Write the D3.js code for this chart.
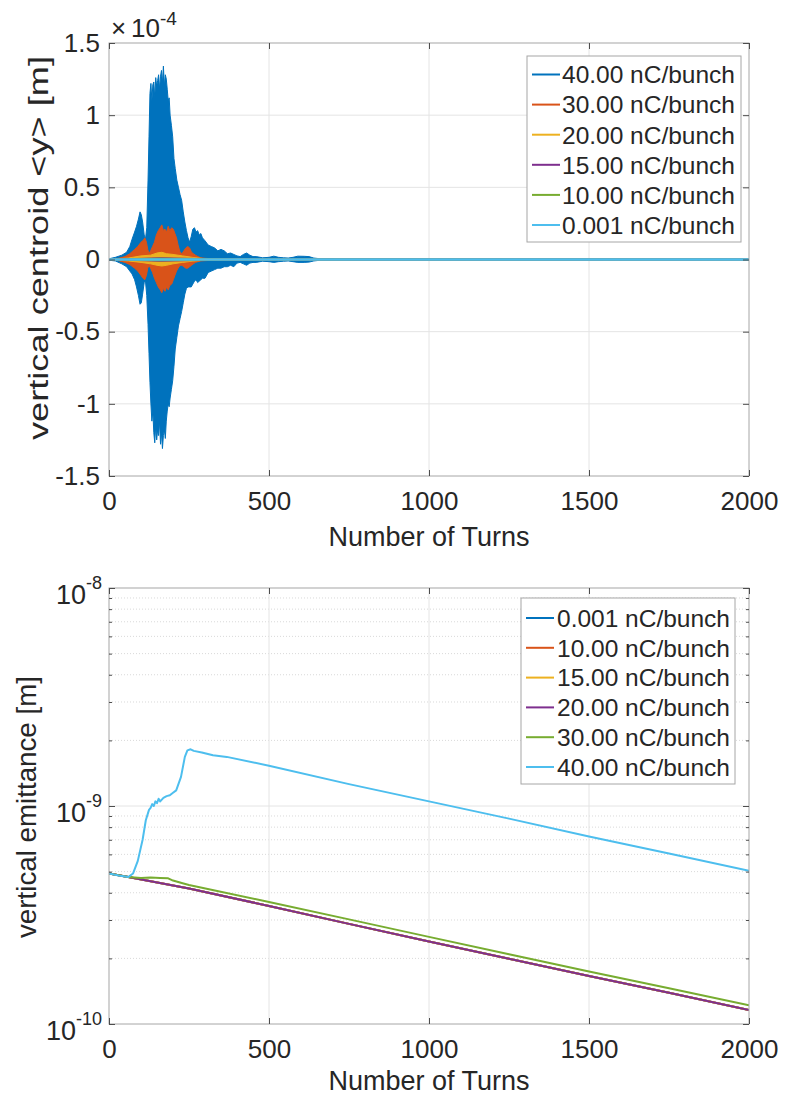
<!DOCTYPE html>
<html><head><meta charset="utf-8">
<script src="https://cdn.jsdelivr.net/npm/d3@7"></script>
<style>
body{margin:0;background:#fff}
svg{display:block}
text{font-family:'Liberation Sans',Arial,sans-serif;fill:#262626}
</style>
</head><body>
<svg id="c" width="785" height="1094"></svg>
<script>
// ---------------- DATA: top panel (vertical centroid, units 1e-4 m) ----------------
const topSeries = ["40.00 nC/bunch","30.00 nC/bunch","20.00 nC/bunch","15.00 nC/bunch","10.00 nC/bunch","0.001 nC/bunch"];
const topColors = ["#0072BD","#D95319","#EDB120","#7E2F8E","#77AC30","#4DBEEE"];

const turns40 = [0,20,40,55,65,72,80,86,92,97,101,105,110,114,118,122,125,128,131,134,137,140,143,146,149,152,155,158,161,164,167,170,173,176,179,182,185,188,191,195,199,203,207,212,217,222,227,232,237,242,247,252,257,262,267,272,277,282,287,292,300,310,320,330,340,350,360,370,380,390,400,410,420,430,440,450,460,480,500,515,530,545,560,575,590,610,625,640,660,700,800,1000,1500,2000];
const upper40 = [0.005,0.015,0.03,0.05,0.09,0.14,0.19,0.23,0.28,0.33,0.31,0.26,0.17,0.14,0.22,0.55,0.85,1.15,1.22,1.10,1.21,1.23,1.12,1.26,1.20,1.24,1.28,1.18,1.27,1.31,1.22,1.34,1.20,1.28,1.25,1.18,1.10,1.12,1.00,0.93,0.85,0.70,0.63,0.55,0.50,0.45,0.41,0.33,0.26,0.20,0.15,0.12,0.16,0.21,0.22,0.19,0.20,0.17,0.18,0.15,0.13,0.10,0.09,0.08,0.06,0.07,0.06,0.04,0.045,0.035,0.025,0.02,0.035,0.045,0.03,0.02,0.02,0.012,0.015,0.023,0.015,0.012,0.01,0.015,0.023,0.022,0.02,0.01,0.005,0.004,0.003,0.003,0.003,0.003];
const lower40 = [-0.005,-0.01,-0.03,-0.05,-0.08,-0.10,-0.14,-0.19,-0.25,-0.31,-0.30,-0.24,-0.16,-0.15,-0.25,-0.45,-0.65,-0.85,-1.0,-1.12,-1.05,-1.20,-1.27,-1.15,-1.25,-1.18,-1.22,-1.12,-1.28,-1.20,-1.31,-1.22,-1.18,-1.24,-1.12,-1.05,-1.00,-1.02,-0.96,-0.90,-0.84,-0.74,-0.62,-0.54,-0.46,-0.41,-0.36,-0.30,-0.24,-0.20,-0.19,-0.19,-0.19,-0.17,-0.15,-0.14,-0.16,-0.15,-0.14,-0.13,-0.13,-0.09,-0.08,-0.07,-0.06,-0.06,-0.05,-0.05,-0.04,-0.05,-0.025,-0.02,-0.03,-0.04,-0.025,-0.02,-0.02,-0.012,-0.015,-0.02,-0.015,-0.012,-0.01,-0.015,-0.02,-0.02,-0.018,-0.01,-0.005,-0.004,-0.003,-0.003,-0.003,-0.003];

const turns30 = [0,30,50,65,80,90,100,106,112,117,121,125,130,136,142,148,154,160,165,170,175,180,185,190,196,201,206,211,216,222,228,234,240,246,252,258,264,270,278,286,300,330,400,2000];
const upper30 = [0.002,0.008,0.02,0.04,0.07,0.09,0.12,0.13,0.15,0.12,0.07,0.04,0.06,0.09,0.12,0.17,0.20,0.22,0.24,0.20,0.21,0.19,0.23,0.20,0.22,0.21,0.18,0.15,0.10,0.05,0.04,0.06,0.08,0.09,0.08,0.05,0.04,0.03,0.02,0.012,0.008,0.005,0.003,0.002];
const lower30 = [-0.002,-0.008,-0.02,-0.035,-0.06,-0.08,-0.11,-0.13,-0.14,-0.11,-0.06,-0.04,-0.06,-0.09,-0.13,-0.16,-0.19,-0.21,-0.23,-0.20,-0.22,-0.19,-0.21,-0.18,-0.17,-0.14,-0.11,-0.08,-0.06,-0.04,-0.04,-0.05,-0.06,-0.06,-0.05,-0.04,-0.03,-0.02,-0.015,-0.01,-0.008,-0.005,-0.003,-0.002];

const turns20 = [0,60,100,130,150,165,180,200,230,260,300,2000];
const upper20 = [0.001,0.01,0.025,0.03,0.045,0.05,0.04,0.035,0.025,0.015,0.005,0.002];
const lower20 = [-0.001,-0.01,-0.02,-0.03,-0.04,-0.045,-0.04,-0.03,-0.02,-0.012,-0.005,-0.002];

const turns15 = [0,100,160,250,400,2000];
const upper15 = [0.002,0.008,0.012,0.008,0.004,0.002];
const lower15 = [-0.002,-0.008,-0.012,-0.008,-0.004,-0.002];

const turns10 = [0,100,160,250,400,2000];
const upper10 = [0.002,0.006,0.009,0.006,0.003,0.002];
const lower10 = [-0.002,-0.006,-0.009,-0.006,-0.003,-0.002];

const turns0001 = [0,2000];
const values0001 = [0,0];

const topYTicks = [-1.5,-1,-0.5,0,0.5,1,1.5];
const topYTickLabels = ["-1.5","-1","-0.5","0","0.5","1","1.5"];
const xTicks = [0,500,1000,1500,2000];
const xTickLabels = ["0","500","1000","1500","2000"];

// ---------------- DATA: bottom panel (vertical emittance, m) ----------------
const botSeries = ["0.001 nC/bunch","10.00 nC/bunch","15.00 nC/bunch","20.00 nC/bunch","30.00 nC/bunch","40.00 nC/bunch"];
const botColors = ["#0072BD","#D95319","#EDB120","#7E2F8E","#77AC30","#4DBEEE"];

const turnsLow = [0,60,250,500,750,1000,1250,1500,1750,2000];
const emitLow  = [4.9e-10,4.72e-10,4.18e-10,3.48e-10,2.88e-10,2.39e-10,1.99e-10,1.66e-10,1.39e-10,1.16e-10];

const turns30e = [0,60,100,130,160,185,200,230,250,500,750,1000,1250,1500,1750,2000];
const emit30   = [4.9e-10,4.72e-10,4.68e-10,4.70e-10,4.68e-10,4.66e-10,4.55e-10,4.42e-10,4.34e-10,3.63e-10,3.02e-10,2.51e-10,2.09e-10,1.74e-10,1.46e-10,1.22e-10];

const turns40e = [0,30,60,75,90,105,115,125,130,135,140,145,150,155,160,170,180,190,200,210,225,237,245,255,265,290,325,368,500,750,1000,1250,1500,1750,2000];
const emit40   = [4.9e-10,4.8e-10,4.72e-10,4.9e-10,5.6e-10,7.0e-10,8.6e-10,9.6e-10,9.8e-10,1.02e-9,1.0e-9,1.05e-9,1.03e-9,1.08e-9,1.05e-9,1.09e-9,1.11e-9,1.12e-9,1.15e-9,1.18e-9,1.36e-9,1.68e-9,1.80e-9,1.82e-9,1.79e-9,1.76e-9,1.71e-9,1.68e-9,1.53e-9,1.26e-9,1.05e-9,8.75e-10,7.25e-10,6.05e-10,5.05e-10];

const botYMajor = [1e-10,1e-9,1e-8];
const botYMajorExp = ["-10","-9","-8"];

// ---------------- DRAWING ----------------
const svg = d3.select('#c');
const frameColor = "#a6a6a6", tickColor = "#4d4d4d", gridColor = "#e4e4e4";
const L = 109, R = 749;
const TICKFS = 26, LABELFS = 27, LEGFS = 24.5;

const xT = d3.scaleLinear().domain([0,2000]).range([L,R]);
const yT = d3.scaleLinear().domain([-1.5,1.5]).range([476,43]);
const xB = d3.scaleLinear().domain([0,2000]).range([L,R]);
const yB = d3.scaleLog().domain([1e-10,1e-8]).range([1024,588]);

// red fragment of a title cut off at the top edge
svg.append('text').attr('x',590).attr('y',-9).attr('font-size',40).attr('font-weight','bold')
  .style('fill','#c00000').text('y');

function styleAxis(g){
  g.select('.domain').remove();
  g.selectAll('.tick line').attr('stroke',tickColor);
  g.selectAll('.tick text').style('fill','#262626').attr('font-size',TICKFS).attr('font-family','Liberation Sans, Arial, sans-serif');
}

// ===== TOP PANEL =====
const gT = svg.append('g');
gT.selectAll('.gx').data(xTicks.slice(1,-1)).enter().append('line')
  .attr('x1',d=>xT(d)).attr('x2',d=>xT(d)).attr('y1',yT(-1.5)).attr('y2',yT(1.5))
  .attr('stroke',gridColor).attr('stroke-width',1);
gT.selectAll('.gy').data(topYTicks.slice(1,-1)).enter().append('line')
  .attr('x1',L).attr('x2',R).attr('y1',d=>yT(d)).attr('y2',d=>yT(d))
  .attr('stroke',gridColor).attr('stroke-width',1);

const defs = svg.append('defs');
defs.append('clipPath').attr('id','clipT').append('rect')
  .attr('x',L).attr('y',43).attr('width',R-L).attr('height',476-43);
const plotT = gT.append('g').attr('clip-path','url(#clipT)');

const envSets = [
  [turns40,upper40,lower40,topColors[0]],
  [turns30,upper30,lower30,topColors[1]],
  [turns20,upper20,lower20,topColors[2]],
  [turns15,upper15,lower15,topColors[3]],
  [turns10,upper10,lower10,topColors[4]]
];
const area = d3.area().x(d=>xT(d[0])).y0(d=>yT(d[2])).y1(d=>yT(d[1]));
envSets.forEach(([t,u,l,c])=>{
  const pts = t.map((v,i)=>[v,u[i],l[i]]);
  plotT.append('path').attr('d',area(pts)).attr('fill',c).attr('stroke',c).attr('stroke-width',1);
});
const lineT = d3.line().x(d=>xT(d[0])).y(d=>yT(d[1]));
plotT.append('path').attr('d',lineT(turns0001.map((v,i)=>[v,values0001[i]])))
  .attr('fill','none').attr('stroke',topColors[5]).attr('stroke-width',2.5);

gT.append('rect').attr('x',L).attr('y',43).attr('width',R-L).attr('height',476-43)
  .attr('fill','none').attr('stroke',frameColor).attr('stroke-width',1);

gT.append('g').attr('transform','translate(0,476)')
  .call(d3.axisBottom(xT).tickValues(xTicks).tickFormat((d,i)=>xTickLabels[i]).tickSizeInner(-6).tickSizeOuter(0).tickPadding(16))
  .call(styleAxis);
gT.append('g').attr('transform','translate(0,43)')
  .call(d3.axisTop(xT).tickValues(xTicks).tickFormat('').tickSizeInner(-6).tickSizeOuter(0)).call(styleAxis);
gT.append('g').attr('transform',`translate(${L},0)`)
  .call(d3.axisLeft(yT).tickValues(topYTicks).tickFormat((d,i)=>topYTickLabels[i]).tickSizeInner(-6).tickSizeOuter(0).tickPadding(9))
  .call(styleAxis);
gT.append('g').attr('transform',`translate(${R},0)`)
  .call(d3.axisRight(yT).tickValues(topYTicks).tickFormat('').tickSizeInner(-6).tickSizeOuter(0)).call(styleAxis);

// ×10^-4 multiplier
gT.append('text').attr('x',111).attr('y',37).attr('font-size',26).text('×');
gT.append('text').attr('x',131).attr('y',37).attr('font-size',26).text('10');
gT.append('text').attr('x',160).attr('y',25).attr('font-size',19).text('-4');

gT.append('text').attr('x',429).attr('y',546).attr('text-anchor','middle').attr('font-size',LABELFS).text('Number of Turns');
gT.append('text').attr('transform','translate(48,248) rotate(-90)').attr('text-anchor','middle')
  .attr('font-size',LABELFS).attr('textLength',384).attr('lengthAdjust','spacingAndGlyphs').text('vertical centroid <y> [m]');

function drawLegend(g, names, colors, bx, by, bw, bh, y0, step, lx1, lx2, tx){
  g.append('rect').attr('x',bx).attr('y',by).attr('width',bw).attr('height',bh)
    .attr('fill','#fff').attr('stroke',frameColor).attr('stroke-width',1);
  names.forEach((n,i)=>{
    const y = y0 + i*step;
    g.append('line').attr('x1',lx1).attr('x2',lx2).attr('y1',y).attr('y2',y)
      .attr('stroke',colors[i]).attr('stroke-width',2);
    g.append('text').attr('x',tx).attr('y',y).attr('dy','0.36em').attr('font-size',LEGFS).text(n);
  });
}
drawLegend(gT, topSeries, topColors, 527, 56, 214, 186, 74.5, 30.1, 532, 560, 562);

// ===== BOTTOM PANEL =====
const gB = svg.append('g');
const minorVals = [];
[1e-10,1e-9].forEach(dec=>{ for(let k=2;k<=9;k++) minorVals.push(k*dec); });
gB.selectAll('.mg').data(minorVals).enter().append('line')
  .attr('x1',L).attr('x2',R).attr('y1',d=>yB(d)).attr('y2',d=>yB(d))
  .attr('stroke','#d9d9d9').attr('stroke-width',1).attr('stroke-dasharray','1,2');
gB.selectAll('.gx').data(xTicks.slice(1,-1)).enter().append('line')
  .attr('x1',d=>xB(d)).attr('x2',d=>xB(d)).attr('y1',588).attr('y2',1024)
  .attr('stroke',gridColor).attr('stroke-width',1);
gB.append('line').attr('x1',L).attr('x2',R).attr('y1',yB(1e-9)).attr('y2',yB(1e-9))
  .attr('stroke',gridColor).attr('stroke-width',1);

defs.append('clipPath').attr('id','clipB').append('rect')
  .attr('x',L).attr('y',588).attr('width',R-L).attr('height',1024-588);
const plotB = gB.append('g').attr('clip-path','url(#clipB)');
const lineB = d3.line().x(d=>xB(d[0])).y(d=>yB(d[1]));
const botData = [
  [turnsLow,emitLow],[turnsLow,emitLow],[turnsLow,emitLow],[turnsLow,emitLow],
  [turns30e,emit30],[turns40e,emit40]
];
botData.forEach(([t,v],i)=>{
  plotB.append('path').attr('d',lineB(t.map((x,j)=>[x,v[j]])))
    .attr('fill','none').attr('stroke',botColors[i]).attr('stroke-width',2).attr('stroke-linejoin','round');
});

gB.append('rect').attr('x',L).attr('y',588).attr('width',R-L).attr('height',1024-588)
  .attr('fill','none').attr('stroke',frameColor).attr('stroke-width',1);

gB.append('g').attr('transform','translate(0,1024)')
  .call(d3.axisBottom(xB).tickValues(xTicks).tickFormat((d,i)=>xTickLabels[i]).tickSizeInner(-6).tickSizeOuter(0).tickPadding(16))
  .call(styleAxis);
gB.append('g').attr('transform','translate(0,588)')
  .call(d3.axisTop(xB).tickValues(xTicks).tickFormat('').tickSizeInner(-6).tickSizeOuter(0)).call(styleAxis);
gB.append('g').attr('transform',`translate(${L},0)`)
  .call(d3.axisLeft(yB).tickValues(botYMajor).tickFormat('').tickSizeInner(-6).tickSizeOuter(0)).call(styleAxis);
gB.append('g').attr('transform',`translate(${R},0)`)
  .call(d3.axisRight(yB).tickValues(botYMajor).tickFormat('').tickSizeInner(-6).tickSizeOuter(0)).call(styleAxis);
gB.append('g').attr('transform',`translate(${L},0)`)
  .call(d3.axisLeft(yB).tickValues(minorVals).tickFormat('').tickSizeInner(-3).tickSizeOuter(0)).call(styleAxis);
gB.append('g').attr('transform',`translate(${R},0)`)
  .call(d3.axisRight(yB).tickValues(minorVals).tickFormat('').tickSizeInner(-3).tickSizeOuter(0)).call(styleAxis);

botYMajor.forEach((v,i)=>{
  const ty = yB(v);
  const sup = gB.append('text').attr('x',102).attr('y',ty+1).attr('text-anchor','end').attr('font-size',18).text(botYMajorExp[i]);
  const w = sup.node().getComputedTextLength();
  gB.append('text').attr('x',102-w).attr('y',ty+16).attr('text-anchor','end').attr('font-size',27).text('10');
});

gB.append('text').attr('x',429).attr('y',1090).attr('text-anchor','middle').attr('font-size',LABELFS).text('Number of Turns');
gB.append('text').attr('transform','translate(36,807) rotate(-90)').attr('text-anchor','middle')
  .attr('font-size',LABELFS).attr('textLength',262).attr('lengthAdjust','spacingAndGlyphs').text('vertical emittance [m]');

drawLegend(gB, botSeries, botColors, 521, 598, 214, 186, 618, 29.8, 526, 554, 557);
</script>
</body></html>
